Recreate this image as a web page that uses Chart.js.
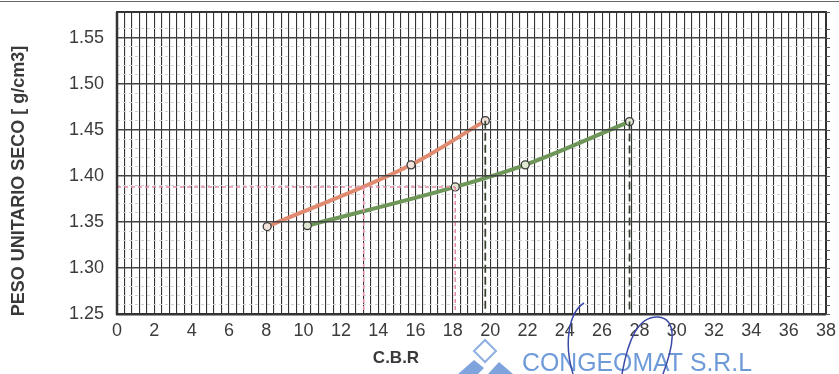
<!DOCTYPE html>
<html>
<head>
<meta charset="utf-8">
<script src="https://cdn.jsdelivr.net/npm/chart.js@4.4.1/dist/chart.umd.min.js"></script>
<style>
  html, body { margin: 0; padding: 0; background: #fff; }
  #wrap { position: relative; width: 839px; height: 374px; }
</style>
</head>
<body>
<div id="wrap"><canvas id="c" width="839" height="374"></canvas></div>
<script>
// Curva 1 (naranja): CBR vs peso unitario seco
const curva1Cbr = [8.05, 15.76, 19.74];
const curva1Peso = [1.345, 1.412, 1.460];

// Curva 2 (verde)
const curva2Cbr = [10.2, 18.13, 21.88, 27.47];
const curva2Peso = [1.346, 1.388, 1.412, 1.459];

// Lectura al peso unitario de diseño
const pesoDiseno = 1.388;
const cbrLecturaNaranja = 13.22;
const cbrLecturaVerde = 18.13;

// Etiquetas de los ejes
const xTickLabels = [0, 2, 4, 6, 8, 10, 12, 14, 16, 18, 20, 22, 24, 26, 28, 30, 32, 34, 36, 38];
const yTickLabels = ['1.25', '1.30', '1.35', '1.40', '1.45', '1.50', '1.55'];

const X_MIN = 0, X_MAX = 38, Y_MIN = 1.25, Y_MAX = 1.578;

function pts(xs, ys) { return xs.map((x, i) => ({ x: x, y: ys[i] })); }

const pinkDash = { borderColor: '#e48ca3', borderWidth: 1.5, borderDash: [4, 3], pointRadius: 0, fill: false, tension: 0 };
const darkDash = { borderColor: '#34402e', borderWidth: 1.7, borderDash: [8, 4], pointRadius: 0, fill: false, tension: 0 };

// Frame, right-side ticks and captions drawn on the canvas
const extras = {
  id: 'extras',
  afterDraw(chart) {
    const ctx = chart.ctx;
    const a = chart.chartArea;
    ctx.save();
    ctx.strokeStyle = '#333';
    ctx.lineWidth = 2;
    ctx.strokeRect(a.left, a.top, a.right - a.left, a.bottom - a.top);
    ctx.lineWidth = 2.5;
    ctx.beginPath(); ctx.moveTo(a.left, a.top); ctx.lineTo(a.left, a.bottom + 1); ctx.stroke();

    // small ticks on the right edge, one per minor division
    const ym = chart.scales.yMenor;
    ctx.strokeStyle = '#555';
    ctx.lineWidth = 1;
    ym.ticks.forEach(t => {
      const py = Math.round(ym.getPixelForValue(t.value)) + 0.5;
      ctx.beginPath(); ctx.moveTo(a.right, py); ctx.lineTo(a.right + 4, py); ctx.stroke();
    });

    // thin rule along the sheet top
    ctx.strokeStyle = '#666';
    ctx.lineWidth = 1;
    ctx.beginPath(); ctx.moveTo(0, 1.5); ctx.lineTo(839, 1.5); ctx.stroke();

    // axis captions
    ctx.fillStyle = '#3a3a3a';
    ctx.font = 'bold 17px "Liberation Sans", Arial, sans-serif';
    ctx.textAlign = 'center';
    ctx.textBaseline = 'middle';
    ctx.fillText('C.B.R', 396, 358);
    ctx.save();
    ctx.font = 'bold 18px "Liberation Sans", Arial, sans-serif';
    ctx.translate(19, 181);
    ctx.rotate(-Math.PI / 2);
    ctx.fillText('PESO UNITARIO SECO [ g/cm3]', 0, 0);
    ctx.restore();

    // company seal
    ctx.strokeStyle = '#8fb0e0';
    ctx.lineWidth = 2;
    ctx.beginPath();
    ctx.moveTo(474, 351); ctx.lineTo(485, 340); ctx.lineTo(496, 351); ctx.lineTo(485, 362); ctx.closePath();
    ctx.stroke();
    ctx.fillStyle = '#7fa3dc';
    ctx.beginPath();
    ctx.moveTo(458, 374); ctx.lineTo(474, 360); ctx.lineTo(484, 368); ctx.lineTo(478, 374); ctx.closePath();
    ctx.fill();
    ctx.beginPath();
    ctx.moveTo(488, 374); ctx.lineTo(499, 362); ctx.lineTo(513, 374); ctx.closePath();
    ctx.fill();

    ctx.fillStyle = '#6f9ad8';
    ctx.font = '25px "Liberation Sans", Arial, sans-serif';
    ctx.textAlign = 'left';
    ctx.textBaseline = 'alphabetic';
    const txt = 'CONGEOMAT S.R.L';
    const w = ctx.measureText(txt).width;
    ctx.save();
    ctx.translate(522, 371);
    ctx.scale(230 / w, 1);
    ctx.fillText(txt, 0, 0);
    ctx.restore();

    // signature strokes
    ctx.strokeStyle = '#3b4aa8';
    ctx.lineWidth = 1.5;
    ctx.beginPath();
    ctx.moveTo(584, 303);
    ctx.bezierCurveTo(568, 313, 564, 345, 573, 374);
    ctx.stroke();
    ctx.beginPath();
    ctx.moveTo(622, 374);
    ctx.bezierCurveTo(628, 340, 638, 316, 658, 317);
    ctx.bezierCurveTo(680, 319, 672, 350, 663, 374);
    ctx.stroke();
    ctx.restore();
  }
};

new Chart(document.getElementById('c'), {
  type: 'line',
  data: {
    datasets: [
      Object.assign({ data: [{ x: 0, y: pesoDiseno }, { x: cbrLecturaVerde, y: pesoDiseno }] }, pinkDash),
      Object.assign({ data: [{ x: cbrLecturaNaranja, y: pesoDiseno }, { x: cbrLecturaNaranja, y: Y_MIN }] }, pinkDash),
      Object.assign({ data: [{ x: cbrLecturaVerde, y: pesoDiseno }, { x: cbrLecturaVerde, y: Y_MIN }] }, pinkDash),
      Object.assign({ data: [{ x: curva1Cbr[2], y: curva1Peso[2] }, { x: curva1Cbr[2], y: Y_MIN }] }, darkDash),
      Object.assign({ data: [{ x: curva2Cbr[3], y: curva2Peso[3] }, { x: curva2Cbr[3], y: Y_MIN }] }, darkDash),
      {
        label: 'Curva 1',
        data: pts(curva1Cbr, curva1Peso),
        borderColor: '#e08a70',
        borderWidth: 4,
        cubicInterpolationMode: 'monotone',
        pointRadius: 4,
        pointBackgroundColor: '#f2e2da',
        pointBorderColor: '#3a3a3a',
        pointBorderWidth: 1.3,
        fill: false
      },
      {
        label: 'Curva 2',
        data: pts(curva2Cbr, curva2Peso),
        borderColor: '#6f9659',
        borderWidth: 4,
        cubicInterpolationMode: 'monotone',
        pointRadius: 4,
        pointBackgroundColor: '#dfe8d2',
        pointBorderColor: '#3a3a3a',
        pointBorderWidth: 1.3,
        fill: false
      }
    ]
  },
  options: {
    responsive: false,
    animation: false,
    layout: { padding: { top: 12, right: 13, left: 0, bottom: 0 } },
    plugins: { legend: { display: false }, tooltip: { enabled: false } },
    scales: {
      x: {
        type: 'linear',
        min: X_MIN, max: X_MAX,
        afterFit(s) { s.height = 60; s.paddingLeft = 0; s.paddingRight = 0; },
        ticks: {
          stepSize: 0.4,
          autoSkip: false,
          maxRotation: 0,
          padding: 6,
          color: '#3c3c3c',
          font: { family: '"Liberation Sans", Arial, sans-serif', size: 18 },
          callback(v) {
            const r = Math.round(v);
            return (Math.abs(v - r) < 1e-6 && xTickLabels.includes(r)) ? String(r) : '';
          }
        },
        grid: { color: '#333', lineWidth: 1.1, drawTicks: false },
        border: { display: true, color: '#333', width: 2.5 }
      },
      y: {
        type: 'linear',
        position: 'left',
        min: Y_MIN, max: Y_MAX,
        afterFit(s) { s.width = 117; s.paddingTop = 0; s.paddingBottom = 0; },
        ticks: {
          stepSize: 0.05,
          padding: 13,
          color: '#3c3c3c',
          font: { family: '"Liberation Sans", Arial, sans-serif', size: 18 },
          callback(v) {
            const t = v.toFixed(2);
            return (Math.abs(v - Number(t)) < 1e-6 && yTickLabels.includes(t)) ? t : '';
          }
        },
        grid: {
          color(ctx) {
            const v = ctx.tick ? ctx.tick.value : 0;
            return Math.abs(v * 20 - Math.round(v * 20)) < 1e-6 ? '#444' : 'rgba(0,0,0,0)';
          },
          lineWidth: 1.4,
          drawTicks: false,
          z: 1
        },
        border: { display: false }
      },
      yMenor: {
        type: 'linear',
        position: 'right',
        min: Y_MIN, max: Y_MAX,
        afterFit(s) { s.width = 0; s.paddingTop = 0; s.paddingBottom = 0; },
        ticks: { stepSize: 0.01, display: false },
        grid: { color: '#d2d2d2', lineWidth: 1, drawTicks: false },
        border: { display: false, dash: [3, 3] }
      }
    }
  },
  plugins: [extras]
});
</script>
</body>
</html>
